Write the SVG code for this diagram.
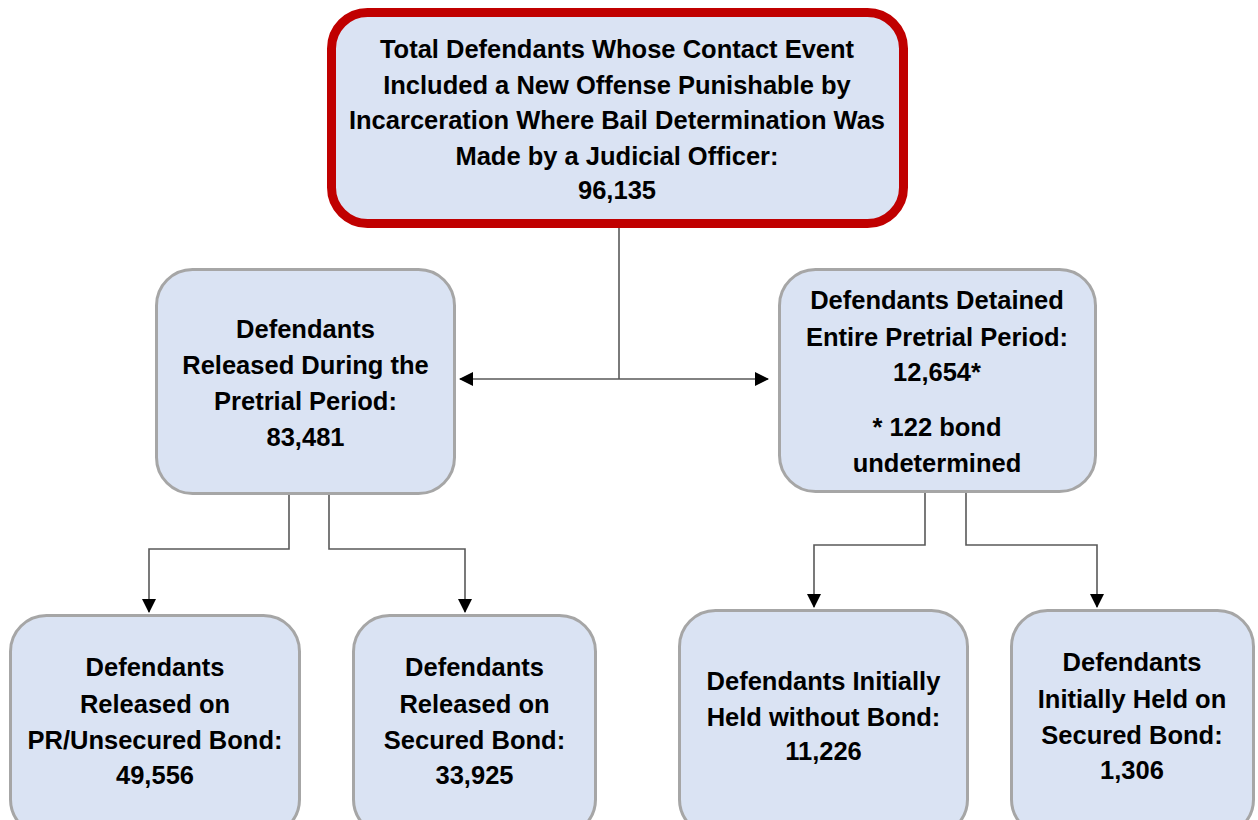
<svg xmlns="http://www.w3.org/2000/svg" width="1258" height="820" viewBox="0 0 1258 820">
<style>
.box{fill:#dae3f3;stroke:#a6a6a6;stroke-width:3}
.top{fill:#dae3f3;stroke:#c00000;stroke-width:9}
text{font-family:"Liberation Sans",Arial,sans-serif;font-weight:bold;font-size:25.5px;fill:#000;text-anchor:middle}
.c{fill:none;stroke:#595959;stroke-width:1.6}
</style>
<defs>
<marker id="ah2" viewBox="0 0 14 14" refX="13" refY="7" markerWidth="14" markerHeight="14" markerUnits="userSpaceOnUse" orient="auto-start-reverse">
<path d="M0,0 L14,7 L0,14 Z" fill="#000"/>
</marker>
</defs>
<g id="connectors">
<path class="c" d="M619,228 V379"/>
<path class="c" d="M460,379 H768" marker-start="url(#ah2)" marker-end="url(#ah2)"/>
<path class="c" d="M289,494 V549 H149 V612" marker-end="url(#ah2)"/>
<path class="c" d="M329,494 V549 H465 V612" marker-end="url(#ah2)"/>
<path class="c" d="M925,492 V545 H814 V607" marker-end="url(#ah2)"/>
<path class="c" d="M966,492 V545 H1097 V607" marker-end="url(#ah2)"/>
</g>
<g id="total">
<rect class="top" x="331.5" y="12.5" width="572" height="211" rx="36"/>
<text x="617" y="58">Total Defendants Whose Contact Event</text>
<text x="617" y="94">Included a New Offense Punishable by</text>
<text x="617" y="129">Incarceration Where Bail Determination Was</text>
<text x="617" y="165">Made by a Judicial Officer:</text>
<text x="617" y="199">96,135</text>
</g>
<g id="released">
<rect class="box" x="156.5" y="269.5" width="298" height="224" rx="36"/>
<text x="305.5" y="338">Defendants</text>
<text x="305.5" y="374">Released During the</text>
<text x="305.5" y="410">Pretrial Period:</text>
<text x="305.5" y="446">83,481</text>
</g>
<g id="detained">
<rect class="box" x="779.5" y="269.5" width="316" height="222" rx="36"/>
<text x="937" y="309">Defendants Detained</text>
<text x="937" y="346">Entire Pretrial Period:</text>
<text x="937" y="381">12,654*</text>
<text x="937" y="436">* 122 bond</text>
<text x="937" y="472">undetermined</text>
</g>
<g id="pr-unsecured">
<rect class="box" x="10.5" y="615.5" width="289" height="220" rx="36"/>
<text x="155" y="676">Defendants</text>
<text x="155" y="713">Released on</text>
<text x="155" y="749">PR/Unsecured Bond:</text>
<text x="155" y="784">49,556</text>
</g>
<g id="secured-released">
<rect class="box" x="353.5" y="615.5" width="242" height="220" rx="36"/>
<text x="474.5" y="676">Defendants</text>
<text x="474.5" y="713">Released on</text>
<text x="474.5" y="749">Secured Bond:</text>
<text x="474.5" y="784">33,925</text>
</g>
<g id="without-bond">
<rect class="box" x="679.5" y="610.5" width="288" height="225" rx="36"/>
<text x="823.5" y="690">Defendants Initially</text>
<text x="823.5" y="726">Held without Bond:</text>
<text x="823.5" y="760">11,226</text>
</g>
<g id="held-secured">
<rect class="box" x="1011.5" y="610.5" width="242" height="225" rx="36"/>
<text x="1132" y="671">Defendants</text>
<text x="1132" y="708">Initially Held on</text>
<text x="1132" y="744">Secured Bond:</text>
<text x="1132" y="779">1,306</text>
</g>
</svg>
